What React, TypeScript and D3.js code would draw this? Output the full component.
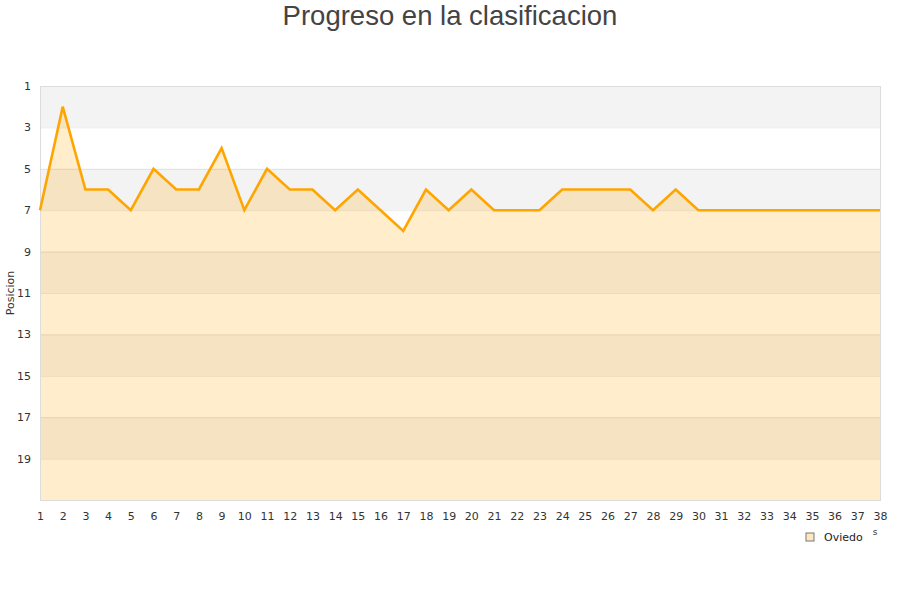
import React, { useRef, useEffect } from "react";
import * as d3 from "d3";

// jornadas 1..38 and Oviedo's league position after each one
const rounds = d3.range(1, 39);
const positions = [
  7, 2, 6, 6, 7, 5, 6, 6, 4, 7, 5, 6, 6, 7, 6, 7, 8, 6, 7, 6, 7, 7, 7, 6, 6, 6, 6, 7, 6, 7,
  7, 7, 7, 7, 7, 7, 7, 7,
];
const yTicks = [1, 3, 5, 7, 9, 11, 13, 15, 17, 19];
const team = "Oviedo";

const App = () => {
  const node: any = useRef();

  useEffect(() => {
    const width = 900,
      height = 600;
    const margin = { top: 86, right: 20, bottom: 100, left: 40 };
    const innerW = width - margin.left - margin.right,
      innerH = height - margin.top - margin.bottom;

    const svg = d3.select(node.current).attr("width", width).attr("height", height);
    svg.selectAll("*").remove();

    svg
      .append("text")
      .attr("x", width / 2)
      .attr("y", 25)
      .attr("text-anchor", "middle")
      .style("font-family", "'Liberation Sans', Arial, sans-serif")
      .style("font-size", "27.5px")
      .style("fill", "#444")
      .text("Progreso en la clasificacion");

    const g = svg.append("g").attr("transform", `translate(${margin.left},${margin.top})`);

    const x = d3.scaleLinear().domain([1, 38]).range([0, innerW]);
    const y = d3.scaleLinear().domain([1, 21]).range([0, innerH]);

    // alternating bands
    const bands = d3.range(1, 21, 2);
    g.selectAll("rect.band")
      .data(bands)
      .enter()
      .append("rect")
      .attr("x", 0)
      .attr("y", (d: number) => y(d))
      .attr("width", innerW)
      .attr("height", (d: number) => y(d + 2) - y(d))
      .attr("fill", (_d: number, i: number) => (i % 2 === 0 ? "#f3f3f3" : "#ffffff"));

    // area under the line
    const area = d3
      .area<number>()
      .x((_d, i) => x(rounds[i]))
      .y0(y(21))
      .y1((d) => y(d));
    g.append("path")
      .datum(positions)
      .attr("d", area)
      .attr("fill", "#ffa500")
      .attr("fill-opacity", 0.2);

    // grid lines
    g.selectAll("line.grid")
      .data(d3.range(3, 21, 2))
      .enter()
      .append("line")
      .attr("x1", 0)
      .attr("x2", innerW)
      .attr("y1", (d: number) => y(d) + 0.5)
      .attr("y2", (d: number) => y(d) + 0.5)
      .attr("stroke", "#000")
      .attr("stroke-opacity", 0.08);

    g.append("rect")
      .attr("x", 0.5)
      .attr("y", 0.5)
      .attr("width", innerW)
      .attr("height", innerH)
      .attr("fill", "none")
      .attr("stroke", "#dcdcdc");

    const line = d3
      .line<number>()
      .x((_d, i) => x(rounds[i]))
      .y((d) => y(d));
    g.append("path")
      .datum(positions)
      .attr("d", line)
      .attr("fill", "none")
      .attr("stroke", "#ffa500")
      .attr("stroke-width", 2.6)
      .attr("stroke-linejoin", "miter");

    // axes
    const tickFont = "'DejaVu Sans', sans-serif";
    const yAxis = g.append("g").call(d3.axisLeft(y).tickValues(yTicks).tickSize(0).tickPadding(9));
    yAxis.select(".domain").remove();
    yAxis.selectAll("text").style("font-family", tickFont).style("font-size", "11px").style("fill", "#333");

    const xAxis = g
      .append("g")
      .attr("transform", `translate(0,${innerH})`)
      .call(d3.axisBottom(x).tickValues(rounds).tickFormat(d3.format("d")).tickSize(0).tickPadding(12));
    xAxis.select(".domain").remove();
    xAxis.selectAll("text").style("font-family", tickFont).style("font-size", "11px").style("fill", "#333");

    svg
      .append("text")
      .attr("transform", `translate(14,${margin.top + innerH / 2}) rotate(-90)`)
      .attr("text-anchor", "middle")
      .style("font-family", tickFont)
      .style("font-size", "11px")
      .style("fill", "#333")
      .text("Posicion");

    // clipped axis title remnant
    svg
      .append("text")
      .attr("x", 875)
      .attr("y", 535)
      .attr("text-anchor", "middle")
      .style("font-family", tickFont)
      .style("font-size", "9px")
      .style("fill", "#333")
      .text("s");

    // legend
    const legend = svg.append("g").attr("transform", "translate(806,533)");
    legend
      .append("rect")
      .attr("width", 8)
      .attr("height", 8)
      .attr("fill", "#fde8c0")
      .attr("stroke", "#777")
      .attr("stroke-width", 1);
    legend
      .append("text")
      .attr("x", 18)
      .attr("y", 8)
      .style("font-family", tickFont)
      .style("font-size", "11px")
      .style("fill", "#222")
      .text(team);
  }, []);

  return (
    <div style={{ position: "absolute", top: 0, left: 0 }}>
      <svg ref={node}></svg>
    </div>
  );
};

export default App;
